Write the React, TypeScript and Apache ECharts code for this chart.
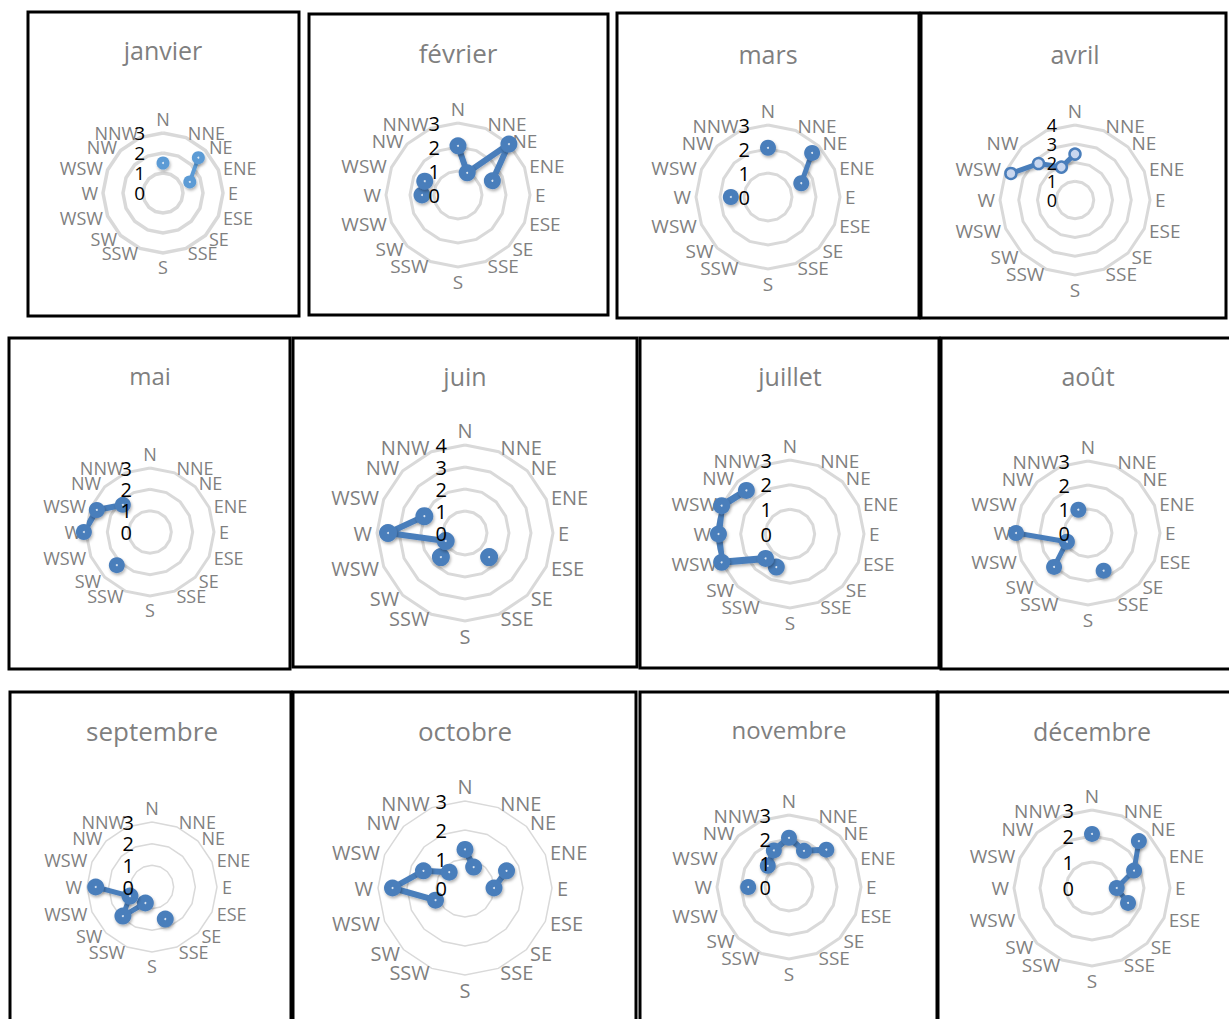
import React, { useEffect, useRef } from "react";
import * as echarts from "echarts";

// ---------- data ----------
const directions = ["N", "NNE", "NE", "ENE", "E", "ESE", "SE", "SSE", "S", "SSW", "SW", "WSW", "W", "WNW", "NW", "NNW"];
// labels as printed on the original chart (WNW appears as "WSW")
const directionLabels = ["N", "NNE", "NE", "ENE", "E", "ESE", "SE", "SSE", "S", "SSW", "SW", "WSW", "W", "WSW", "NW", "NNW"];
const monthNames = ["janvier", "février", "mars", "avril", "mai", "juin", "juillet", "août", "septembre", "octobre", "novembre", "décembre"];
const axisMax = [3, 3, 3, 4, 3, 4, 3, 3, 3, 3, 3, 3];

//                N     NNE   NE    ENE   E     ESE   SE    SSE   S     SSW   SW    WSW   W     WNW   NW    NNW
const janvier = [1.5, null, 2.5, 1.45, null, null, null, null, null, null, null, null, null, null, null, null];
const fevrier = [2.05, 1.0, 3.0, 1.55, null, null, null, null, null, null, null, null, 1.5, 1.5, null, null];
const mars = [2.05, null, 2.6, 1.5, null, null, null, null, null, null, null, null, 1.55, null, null, null];
const avril = [2.45, null, null, null, null, null, null, null, null, null, null, null, null, 3.7, 2.75, 1.9];
const mai = [null, null, null, null, null, null, null, null, null, null, 2.2, null, 3.1, 2.7, 1.8, null];
const juin = [null, null, null, null, null, null, 1.55, null, null, null, 1.55, 0.95, 3.5, 2.0, null, null];
const juillet = [null, null, null, null, null, null, null, null, null, 1.45, 1.4, 3.0, 2.9, 3.0, 2.5, null];
const aout = [null, null, null, null, null, null, null, 1.7, null, null, 2.0, 0.95, 3.0, null, null, 1.05];
const septembre = [null, null, null, null, null, null, null, 1.6, null, 0.8, 1.9, 1.1, 2.6, null, null, null];
const octobre = [1.33, 0.78, null, 1.55, 1.0, null, null, null, null, null, null, 1.1, 2.5, 1.55, 0.77, null];
const novembre = [2.05, 1.63, 2.2, null, null, null, null, null, null, null, null, null, 1.7, null, 1.25, 1.65];
const decembre = [2.08, null, 2.55, 1.75, 0.95, 1.5, null, null, null, null, null, null, null, null, null, null];

const monthValues = [janvier, fevrier, mars, avril, mai, juin, juillet, aout, septembre, octobre, novembre, decembre];

// ---------- layout / style ----------
const FONT = "'Open Sans', sans-serif";
type Panel = {
  box: number[]; cx: number; cy: number; r: number; titleY: number; titleSize: number;
  nameSize: number; tickSize: number; ring: number; line: number; sym: number; color: string;
  hollow?: boolean; hide?: number[];
};
const panels: Panel[] = [
  { box: [28, 12, 271, 304], cx: 163, cy: 193, r: 60, titleY: 50, titleSize: 25, nameSize: 18, tickSize: 19, ring: 3.5, line: 4, sym: 13, color: "#5b9bd5" },
  { box: [309, 14, 299, 301], cx: 458, cy: 195, r: 72, titleY: 53, titleSize: 26, nameSize: 19, tickSize: 20, ring: 3, line: 6, sym: 17, color: "#4a7ebb" },
  { box: [617, 13, 302, 305], cx: 768, cy: 197, r: 72, titleY: 54, titleSize: 25, nameSize: 19, tickSize: 20, ring: 3, line: 5, sym: 16, color: "#4a7ebb" },
  { box: [921, 13, 305, 305], cx: 1075, cy: 200, r: 75, titleY: 54, titleSize: 25, nameSize: 19, tickSize: 18, ring: 3, line: 5, sym: 11, color: "#4a7ebb", hollow: true, hide: [15] },
  { box: [9, 338, 281, 331], cx: 150, cy: 532, r: 64, titleY: 375, titleSize: 24, nameSize: 18, tickSize: 20, ring: 3, line: 6, sym: 16, color: "#4a7ebb" },
  { box: [293, 338, 344, 329], cx: 465, cy: 533, r: 88, titleY: 376, titleSize: 25, nameSize: 20, tickSize: 20, ring: 3, line: 6, sym: 18, color: "#4a7ebb" },
  { box: [640, 338, 299, 330], cx: 790, cy: 534, r: 74, titleY: 376, titleSize: 25, nameSize: 19, tickSize: 20, ring: 3, line: 7, sym: 17, color: "#4a7ebb" },
  { box: [941, 338, 292, 331], cx: 1088, cy: 533, r: 72, titleY: 376, titleSize: 25, nameSize: 19, tickSize: 20, ring: 3, line: 5, sym: 16, color: "#4a7ebb" },
  { box: [10, 692, 281, 340], cx: 152, cy: 887, r: 65, titleY: 731, titleSize: 26, nameSize: 18, tickSize: 20, ring: 1.5, line: 5, sym: 17, color: "#4a7ebb" },
  { box: [293, 692, 343, 340], cx: 465, cy: 888, r: 87, titleY: 731, titleSize: 26, nameSize: 20, tickSize: 20, ring: 1.5, line: 6, sym: 17, color: "#4a7ebb" },
  { box: [640, 692, 297, 340], cx: 789, cy: 887, r: 72, titleY: 729, titleSize: 24, nameSize: 19, tickSize: 20, ring: 3, line: 6, sym: 16, color: "#4a7ebb" },
  { box: [938, 692, 294, 340], cx: 1092, cy: 888, r: 78, titleY: 731, titleSize: 25, nameSize: 19, tickSize: 20, ring: 3, line: 5, sym: 16, color: "#4a7ebb" },
];

// ECharts radar runs counter-clockwise: reorder so that the compass goes clockwise
const ccwOrder = [0, 15, 14, 13, 12, 11, 10, 9, 8, 7, 6, 5, 4, 3, 2, 1];
const step = 360 / directions.length;

function buildOption() {
  const radar = panels.map((p, i) => ({
    center: [p.cx, p.cy],
    radius: p.r,
    startAngle: 90,
    shape: "polygon",
    splitNumber: axisMax[i],
    indicator: ccwOrder.map((k) => ({
      name: p.hide && p.hide.includes(k) ? "" : directionLabels[k],
      min: 0,
      max: axisMax[i],
    })),
    nameGap: 5,
    axisName: { color: "#7f7f7f", fontSize: p.nameSize, fontFamily: FONT },
    axisLine: { show: false },
    axisTick: { show: false },
    axisLabel: { show: false },
    splitArea: { show: false },
    splitLine: { lineStyle: { color: "#d9d9d9", width: p.ring } },
    silent: true,
  }));

  const polar = panels.map((p) => ({ center: [p.cx, p.cy], radius: p.r }));
  const angleAxis = panels.map((_, i) => ({
    polarIndex: i, type: "value", min: 0, max: 360, startAngle: 90, clockwise: true, show: false,
  }));
  const radiusAxis = panels.map((p, i) => ({
    polarIndex: i, type: "value", min: 0, max: axisMax[i], interval: 1, z: 10,
    axisLine: { show: false }, axisTick: { show: false }, splitLine: { show: false },
    axisLabel: {
      color: "#000", fontSize: p.tickSize, fontFamily: FONT, margin: 18, interval: 0,
      showMinLabel: true, showMaxLabel: true, hideOverlap: false,
    },
  }));

  const series: any[] = [];
  panels.forEach((p, i) => {
    const vals = monthValues[i];
    const data: any[] = vals.map((v, k) => [v == null ? "-" : v, k * step]);
    // radar closes back onto the first direction
    data.push({ value: [vals[0] == null ? "-" : vals[0], 360], symbol: "none" });
    series.push({
      type: "line",
      name: monthNames[i],
      coordinateSystem: "polar",
      polarIndex: i,
      data,
      clip: false,
      connectNulls: false,
      symbol: "circle",
      symbolSize: p.sym,
      showSymbol: true,
      z: 2,
      lineStyle: {
        color: p.color, width: p.line,
        shadowColor: "rgba(0,0,0,0.3)", shadowBlur: 3, shadowOffsetX: 1, shadowOffsetY: 2,
      },
      itemStyle: p.hollow
        ? { color: "#c9d7ef", borderColor: p.color, borderWidth: 2.5 }
        : { color: p.color, shadowColor: "rgba(0,0,0,0.3)", shadowBlur: 3, shadowOffsetX: 1, shadowOffsetY: 2 },
      silent: true,
    });
    if (!p.hollow) {
      series.push({
        type: "scatter",
        coordinateSystem: "polar",
        polarIndex: i,
        clip: false,
        data: vals.map((v, k) => (v == null ? null : [v, k * step])).filter((d) => d),
        symbolSize: 2,
        itemStyle: { color: "#ffffff" },
        z: 3,
        silent: true,
      });
    }
  });

  const graphic: any[] = [];
  panels.forEach((p, i) => {
    graphic.push({
      type: "text",
      x: p.cx,
      y: p.titleY,
      silent: true,
      style: {
        text: monthNames[i],
        fill: "#7f7f7f",
        fontSize: p.titleSize,
        fontFamily: FONT,
        align: "center",
        verticalAlign: "middle",
      },
    });
    graphic.push({
      type: "rect",
      silent: true,
      z: 100,
      shape: { x: p.box[0], y: p.box[1], width: p.box[2], height: p.box[3] },
      style: { fill: "transparent", stroke: "#000", lineWidth: 3 },
    });
  });

  return {
    animation: false,
    backgroundColor: "#ffffff",
    radar,
    polar,
    angleAxis,
    radiusAxis,
    series,
    graphic,
  };
}

export default function App() {
  const ref = useRef<HTMLDivElement>(null);
  useEffect(() => {
    if (!ref.current) return;
    const chart = echarts.init(ref.current, undefined, { renderer: "svg" });
    chart.setOption(buildOption() as any);
    return () => chart.dispose();
  }, []);
  return (
    <div
      ref={ref}
      style={{ position: "absolute", left: 0, top: 0, width: 1229, height: 1019 }}
    />
  );
}
